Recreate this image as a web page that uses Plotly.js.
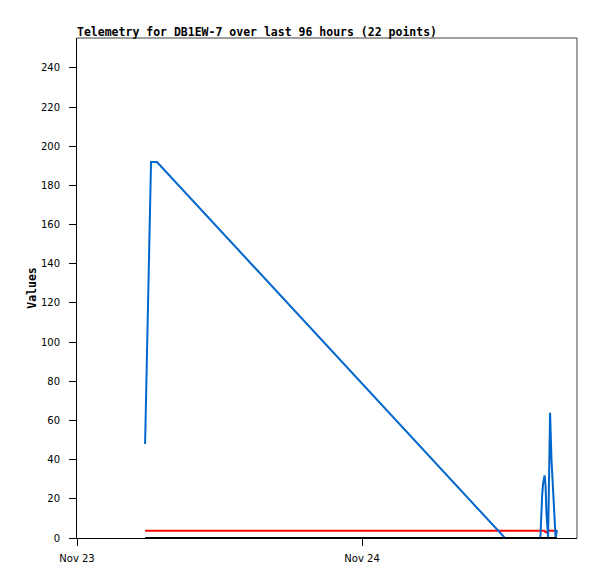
<!DOCTYPE html>
<html>
<head>
<meta charset="utf-8">
<script src="https://cdn.plot.ly/plotly-3.0.1.min.js"></script>
<style>html,body{margin:0;padding:0;background:#fff;}#chart{width:597px;height:579px;}</style>
</head>
<body>
<div id="chart"></div>
<script>
// Series values
const times = [
  "2023-11-23 05:44", "2023-11-23 06:14", "2023-11-23 06:44", "2023-11-24 12:02",
  "2023-11-24 15:01", "2023-11-24 15:04", "2023-11-24 15:10", "2023-11-24 15:15",
  "2023-11-24 15:22", "2023-11-24 15:27", "2023-11-24 15:32", "2023-11-24 15:40",
  "2023-11-24 15:50", "2023-11-24 15:57", "2023-11-24 16:03", "2023-11-24 16:08",
  "2023-11-24 16:13", "2023-11-24 16:18", "2023-11-24 16:25"
];
const blueValues  = [48, 192, 192, 0, 0, 12, 22, 28, 32, 27, 12, 0, 64, 40, 30, 19, 9, 0, 4];
const redValues   = [3.7, 3.7, 3.7, 3.7, 3.7, 3.7, 3.7, 3.7, 3.7, 2.9, 2.9, 3.7, 3.7, 3.7, 3.7, 3.7, 3.7, 3.7, 3.7];
const blackValues = [0, 0, 0, 0, 0, 0, 0, 0, 0, 0, 0, 0, 0, 0, 0, 0, 0, 0, 0];
const yTicks = [0, 20, 40, 60, 80, 100, 120, 140, 160, 180, 200, 220, 240];
const xRange = ["2023-11-23 00:00", "2023-11-24 18:06"];
const titleText = "Telemetry for DB1EW-7 over last 96 hours (22 points)";

const traces = [
  {x: times, y: redValues, mode: "lines", line: {color: "#ff0000", width: 2}, hoverinfo: "skip"},
  {x: times, y: blueValues, mode: "lines", line: {color: "#0066cc", width: 2}, hoverinfo: "skip"},
  {x: times, y: blackValues, mode: "lines", line: {color: "#000000", width: 2}, hoverinfo: "skip"}
];

const layout = {
  width: 597, height: 579,
  margin: {l: 77, r: 20, t: 38, b: 41, pad: 0},
  paper_bgcolor: "#ffffff", plot_bgcolor: "#ffffff",
  showlegend: false,
  title: {
    text: titleText,
    font: {family: "DejaVu Sans Mono", size: 11.5, color: "#000", weight: "bold"},
    xref: "paper", x: 0, xanchor: "left",
    yref: "container", y: 1 - 31.5 / 579, yanchor: "middle"
  },
  xaxis: {
    type: "date", range: xRange,
    tick0: "2023-11-23", dtick: 86400000, tickformat: "%b %d",
    ticks: "outside", ticklen: 7, tickcolor: "#000", tickwidth: 1,
    ticklabelstandoff: 4,
    showgrid: false, zeroline: false,
    showline: true, linecolor: "#000", linewidth: 1,
    tickfont: {family: "DejaVu Sans", size: 10, color: "#000"},
    fixedrange: true
  },
  yaxis: {
    range: [0, 255.3],
    tickmode: "array", tickvals: yTicks, ticktext: yTicks.map(String),
    ticks: "outside", ticklen: 7, tickcolor: "#000", tickwidth: 1,
    ticklabelstandoff: 7,
    showgrid: false, zeroline: false,
    showline: true, linecolor: "#000", linewidth: 1,
    tickfont: {family: "DejaVu Sans", size: 10, color: "#000"},
    title: {text: "Values", font: {family: "DejaVu Sans Mono", size: 11.5, color: "#000", weight: "bold"}, standoff: 1},
    fixedrange: true
  },
  shapes: [
    {type: "line", xref: "paper", yref: "paper", x0: 0, x1: 1, y0: 1, y1: 1, line: {color: "#404040", width: 1}},
    {type: "line", xref: "paper", yref: "paper", x0: 1, x1: 1, y0: 0, y1: 1, line: {color: "#404040", width: 1}}
  ]
};

Plotly.newPlot("chart", traces, layout, {staticPlot: true, displayModeBar: false});
</script>
</body>
</html>
